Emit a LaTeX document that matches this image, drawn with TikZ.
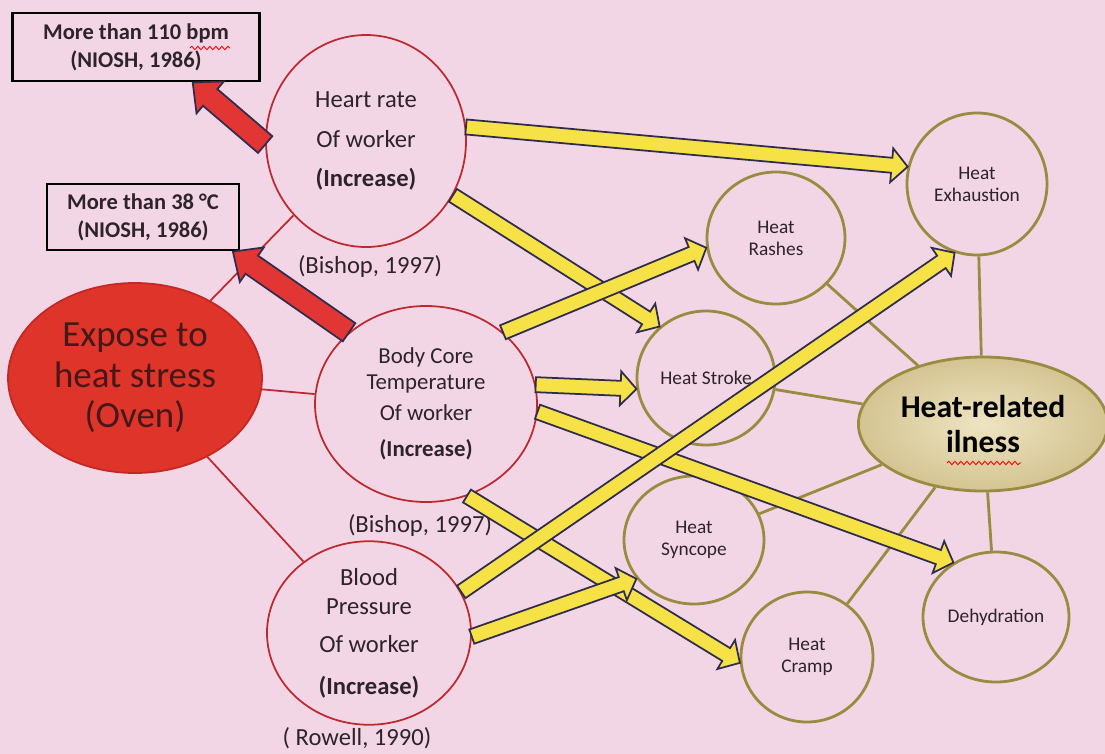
\documentclass[tikz,border=0pt]{standalone}
\usepackage{fontspec}
\setmainfont{Carlito}
\usepackage{xcolor}
\usepackage{tikz}
\usetikzlibrary{shapes.geometric,calc,decorations.pathmorphing}

\definecolor{bgpink}{RGB}{243,214,230}
\definecolor{causered}{RGB}{188,42,48}
\definecolor{ovenred}{RGB}{222,52,42}
\definecolor{ovenedge}{RGB}{196,40,34}
\definecolor{oliveline}{RGB}{152,140,64}
\definecolor{arrowyellow}{RGB}{246,226,70}
\definecolor{arrowred}{RGB}{226,54,52}
\definecolor{arrowedge}{RGB}{48,44,78}
\definecolor{inkgray}{RGB}{45,35,40}

\tikzset{
  cause/.style={ellipse,draw=causered,line width=1pt,fill=bgpink,inner sep=0pt,align=center,text=inkgray,font=\fontsize{14}{16.5}\selectfont},
  effect/.style={ellipse,draw=oliveline,line width=1.6pt,fill=bgpink,inner sep=0pt,align=center,text=inkgray,font=\fontsize{11}{12.5}\selectfont},
  limitbox/.style={draw=black,line width=1.6pt,fill=bgpink,align=center,text=inkgray,font=\bfseries\fontsize{12.8}{16}\selectfont},
  cite/.style={text=inkgray,font=\fontsize{14}{16.5}\selectfont},
  redlink/.style={draw=causered,line width=1pt},
  olivelink/.style={draw=oliveline,line width=1.6pt},
  yblock/.style={fill=arrowyellow,draw=arrowedge,line width=1pt},
  rblock/.style={fill=arrowred,draw=arrowedge,line width=1pt},
}

% block arrow: style, from, to, half shaft, half head, head length
\newcommand\blockarrow[6]{%
  \path let \p1=($(#3)-(#2)$), \n1={atan2(\y1,\x1)}, \n2={veclen(\x1,\y1)} in
    \pgfextra{\xdef\barang{\n1}\xdef\barlen{\n2}};
  \draw[#1,shift={(#2)},rotate=\barang]
    (0pt,-#4)--({\barlen-#6},-#4)--({\barlen-#6},-#5)--(\barlen,0pt)
    --({\barlen-#6},#5)--({\barlen-#6},#4)--(0pt,#4)--cycle;}

\begin{document}
\begin{tikzpicture}[x=0.2mm,y=-0.2mm]
\useasboundingbox (0,0) rectangle (1105,754);
\fill[bgpink] (0,0) rectangle (1105,754);

% limits
\node[limitbox,minimum width=49.4mm,minimum height=13.6mm] (bpm) at (136,47) {More than 110 bpm\\(NIOSH, 1986)};
\node[limitbox,minimum width=38.4mm,minimum height=13.2mm] (temp) at (143,217) {More than 38 °C\\(NIOSH, 1986)};

% exposure and body responses
\node[ellipse,fill=ovenred,draw=ovenedge,line width=1pt,minimum width=50.8mm,minimum height=38mm,align=center,text={rgb,255:red,70;green,24;blue,24},font=\fontsize{21}{23}\selectfont] (oven) at (135,378) {Expose to\\heat stress\\(Oven)};
\node[cause,minimum width=40mm,minimum height=42.4mm] (hr) at (366,141) {Heart rate\\[6pt]Of worker\\[6pt]\textbf{(Increase)}};
\node[cause,minimum width=44.4mm,minimum height=39.2mm,font=\fontsize{13}{14.5}\selectfont] (bct) at (426,404) {Body Core\\Temperature\\[3.5pt]Of worker\\[6pt]\textbf{(Increase)}};
\node[cause,minimum width=40.8mm,minimum height=34.8mm] (bp) at (369,633) {Blood\\Pressure\\[5.5pt]Of worker\\[7pt]\textbf{(Increase)}};
\node[cite] (cit1) at (370,266) {(Bishop, 1997)};
\node[cite] (cit2) at (420,525) {(Bishop, 1997)};
\node[cite] (cit3) at (357,738) {( Rowell, 1990)};

% heat-related illnesses
\node[effect,minimum width=27.6mm,minimum height=26.4mm] (rash) at (776,238) {Heat\\Rashes};
\node[effect,minimum width=28mm,minimum height=28.4mm] (exh) at (977,184) {Heat\\Exhaustion};
\node[effect,minimum width=27.6mm,minimum height=26.8mm] (stroke) at (706,378) {Heat Stroke};
\node[effect,minimum width=28mm,minimum height=25.6mm] (syn) at (694,540) {Heat\\Syncope};
\node[effect,minimum width=26.4mm,minimum height=26mm] (cramp) at (807,657) {Heat\\Cramp};
\node[effect,minimum width=29.2mm,minimum height=26mm] (dehyd) at (996,617) {Dehydration};
\node[ellipse,draw=oliveline,line width=1.6pt,shading=radial,inner color={rgb,255:red,238;green,228;blue,194},outer color={rgb,255:red,212;green,196;blue,146},minimum width=48mm,minimum height=26.8mm,align=center,text=black,font=\bfseries\fontsize{18}{20}\selectfont] (ill) at (983,424) {Heat-related\\ilness};

% thin links
\draw[redlink] (oven)--(hr);
\draw[redlink] (oven)--(bct);
\draw[redlink] (oven)--(bp);
\foreach \n in {rash,exh,stroke,syn,cramp,dehyd}
  \draw[olivelink] (ill)--(\n);

% spelling marks
\draw[red,line width=0.5pt,decorate,decoration={snake,amplitude=0.35mm,segment length=1.2mm}] (190,48)--(230,48);
\draw[red,line width=0.5pt,decorate,decoration={snake,amplitude=0.35mm,segment length=1.2mm}] (947,463)--(1021,463);

% block arrows
\blockarrow{rblock}{hr.182}{bpm.-32}{2.2mm}{4.2mm}{4.6mm}
\blockarrow{rblock}{bct.137}{temp.-21}{2.2mm}{4.2mm}{4.6mm}
\blockarrow{yblock}{hr.8}{exh.166}{1.5mm}{3.4mm}{3.2mm}
\blockarrow{yblock}{hr.-32}{stroke.132}{1.5mm}{3.4mm}{3.2mm}
\blockarrow{yblock}{bct.43}{rash.188}{1.5mm}{3.4mm}{3.2mm}
\blockarrow{yblock}{bct.10}{stroke.189}{1.5mm}{3.4mm}{3.2mm}
\blockarrow{yblock}{bct.-4}{dehyd.128}{1.5mm}{3.4mm}{3.2mm}
\blockarrow{yblock}{bct.-66}{cramp.185}{1.5mm}{3.4mm}{3.2mm}
\blockarrow{yblock}{bp.24}{exh.252}{1.5mm}{3.4mm}{3.2mm}
\blockarrow{yblock}{bp.-2}{syn.214}{1.5mm}{3.4mm}{3.2mm}
\end{tikzpicture}
\end{document}
